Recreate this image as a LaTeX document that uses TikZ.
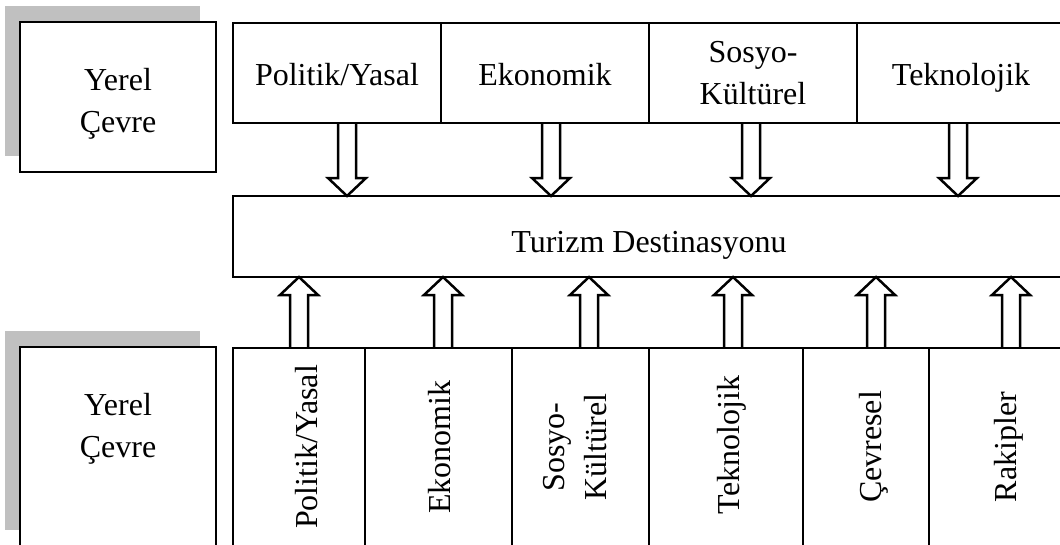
\documentclass[tikz,border=0pt]{standalone}
\usepackage{fontspec}
\setmainfont{Liberation Serif}
\usetikzlibrary{calc}
\definecolor{shadowgray}{RGB}{192,192,192}
\tikzset{
  box/.style={draw=black, line width=2.5pt, fill=white, rectangle, anchor=north west, inner sep=0pt, outer sep=0pt},
  lbl/.style={font=\fontsize{32}{42}\selectfont, align=center, inner sep=0pt},
  baselbl/.style={font=\fontsize{32}{42}\selectfont, inner sep=0pt, anchor=base},
  vlbl/.style={baselbl, rotate=90},
  vlbltwo/.style={lbl, rotate=90},
  shadowbox/.style={fill=shadowgray, draw=none},
  hollow/.style={draw=black, line width=2.5pt, line join=miter},
}
\newcommand{\hollowarrow}[2]{%
  \draw[hollow] let \p1=(#1), \p2=(#2), \p3=($(#2)!18pt!(#1)$) in
    (\x1-9pt,\y1) -- (\x1-9pt,\y3) -- (\x1-19pt,\y3) -- (\x2,\y2)
    -- (\x1+19pt,\y3) -- (\x1+9pt,\y3) -- (\x1+9pt,\y1);%
}
\begin{document}
\begin{tikzpicture}[x=1pt,y=-1pt]
\path[use as bounding box] (0,0) rectangle (1060,544);
\clip (0,0) rectangle (1060,544);
% shadows
\fill[shadowbox] (5,6) rectangle (200,156);
\fill[shadowbox] (5,331) rectangle (200,530);
% left boxes
\node[box, minimum width=196pt, minimum height=150pt] (yc1) at (20,22) {};
\node[lbl] (yc1t) at (118,104) {Yerel\\Çevre};
\node[box, minimum width=196pt, minimum height=200pt] (yc2) at (20,347) {};
\node[lbl] (yc2t) at (118,429) {Yerel\\Çevre};
% top row
\node[box, minimum width=208pt, minimum height=100pt] (t1) at (233,23) {};
\node[box, minimum width=208pt, minimum height=100pt] (t2) at (441,23) {};
\node[box, minimum width=208pt, minimum height=100pt] (t3) at (649,23) {};
\node[box, minimum width=208pt, minimum height=100pt] (t4) at (857,23) {};
\node[baselbl] (t1t) at (337,85) {Politik/Yasal};
\node[baselbl] (t2t) at (545,85) {Ekonomik};
\node[lbl] (t3t) at (753,73) {Sosyo-\\Kültürel};
\node[baselbl] (t4t) at (961,85) {Teknolojik};
% centre
\node[box, minimum width=832pt, minimum height=81pt] (dest) at (233,196) {};
\node[baselbl] (destt) at (649,252) {Turizm Destinasyonu};
% bottom row
\node[box, minimum width=132pt, minimum height=200pt] (b1) at (233,348) {};
\node[box, minimum width=147pt, minimum height=200pt] (b2) at (365,348) {};
\node[box, minimum width=137pt, minimum height=200pt] (b3) at (512,348) {};
\node[box, minimum width=154pt, minimum height=200pt] (b4) at (649,348) {};
\node[box, minimum width=126pt, minimum height=200pt] (b5) at (803,348) {};
\node[box, minimum width=152pt, minimum height=200pt] (b6) at (929,348) {};
\node[vlbl] (b1t) at (317,447) {Politik/Yasal};
\node[vlbl] (b2t) at (450,447) {Ekonomik};
\node[vlbltwo] (b3t) at (575,447) {Sosyo-\\Kültürel};
\node[vlbl] (b4t) at (739,445) {Teknolojik};
\node[vlbl] (b5t) at (881,447) {Çevresel};
\node[vlbl] (b6t) at (1016,447) {Rakipler};
% arrow positions
\coordinate (d1) at (347,0);
\coordinate (d2) at (551,0);
\coordinate (d3) at (751,0);
\coordinate (d4) at (958,0);
\coordinate (u1) at (299,0);
\coordinate (u2) at (443,0);
\coordinate (u3) at (589,0);
\coordinate (u4) at (733,0);
\coordinate (u5) at (876,0);
\coordinate (u6) at (1011,0);
\hollowarrow{d1 |- t1.south}{d1 |- dest.north}
\hollowarrow{d2 |- t2.south}{d2 |- dest.north}
\hollowarrow{d3 |- t3.south}{d3 |- dest.north}
\hollowarrow{d4 |- t4.south}{d4 |- dest.north}
\hollowarrow{u1 |- b1.north}{u1 |- dest.south}
\hollowarrow{u2 |- b2.north}{u2 |- dest.south}
\hollowarrow{u3 |- b3.north}{u3 |- dest.south}
\hollowarrow{u4 |- b4.north}{u4 |- dest.south}
\hollowarrow{u5 |- b5.north}{u5 |- dest.south}
\hollowarrow{u6 |- b6.north}{u6 |- dest.south}
\end{tikzpicture}
\end{document}
